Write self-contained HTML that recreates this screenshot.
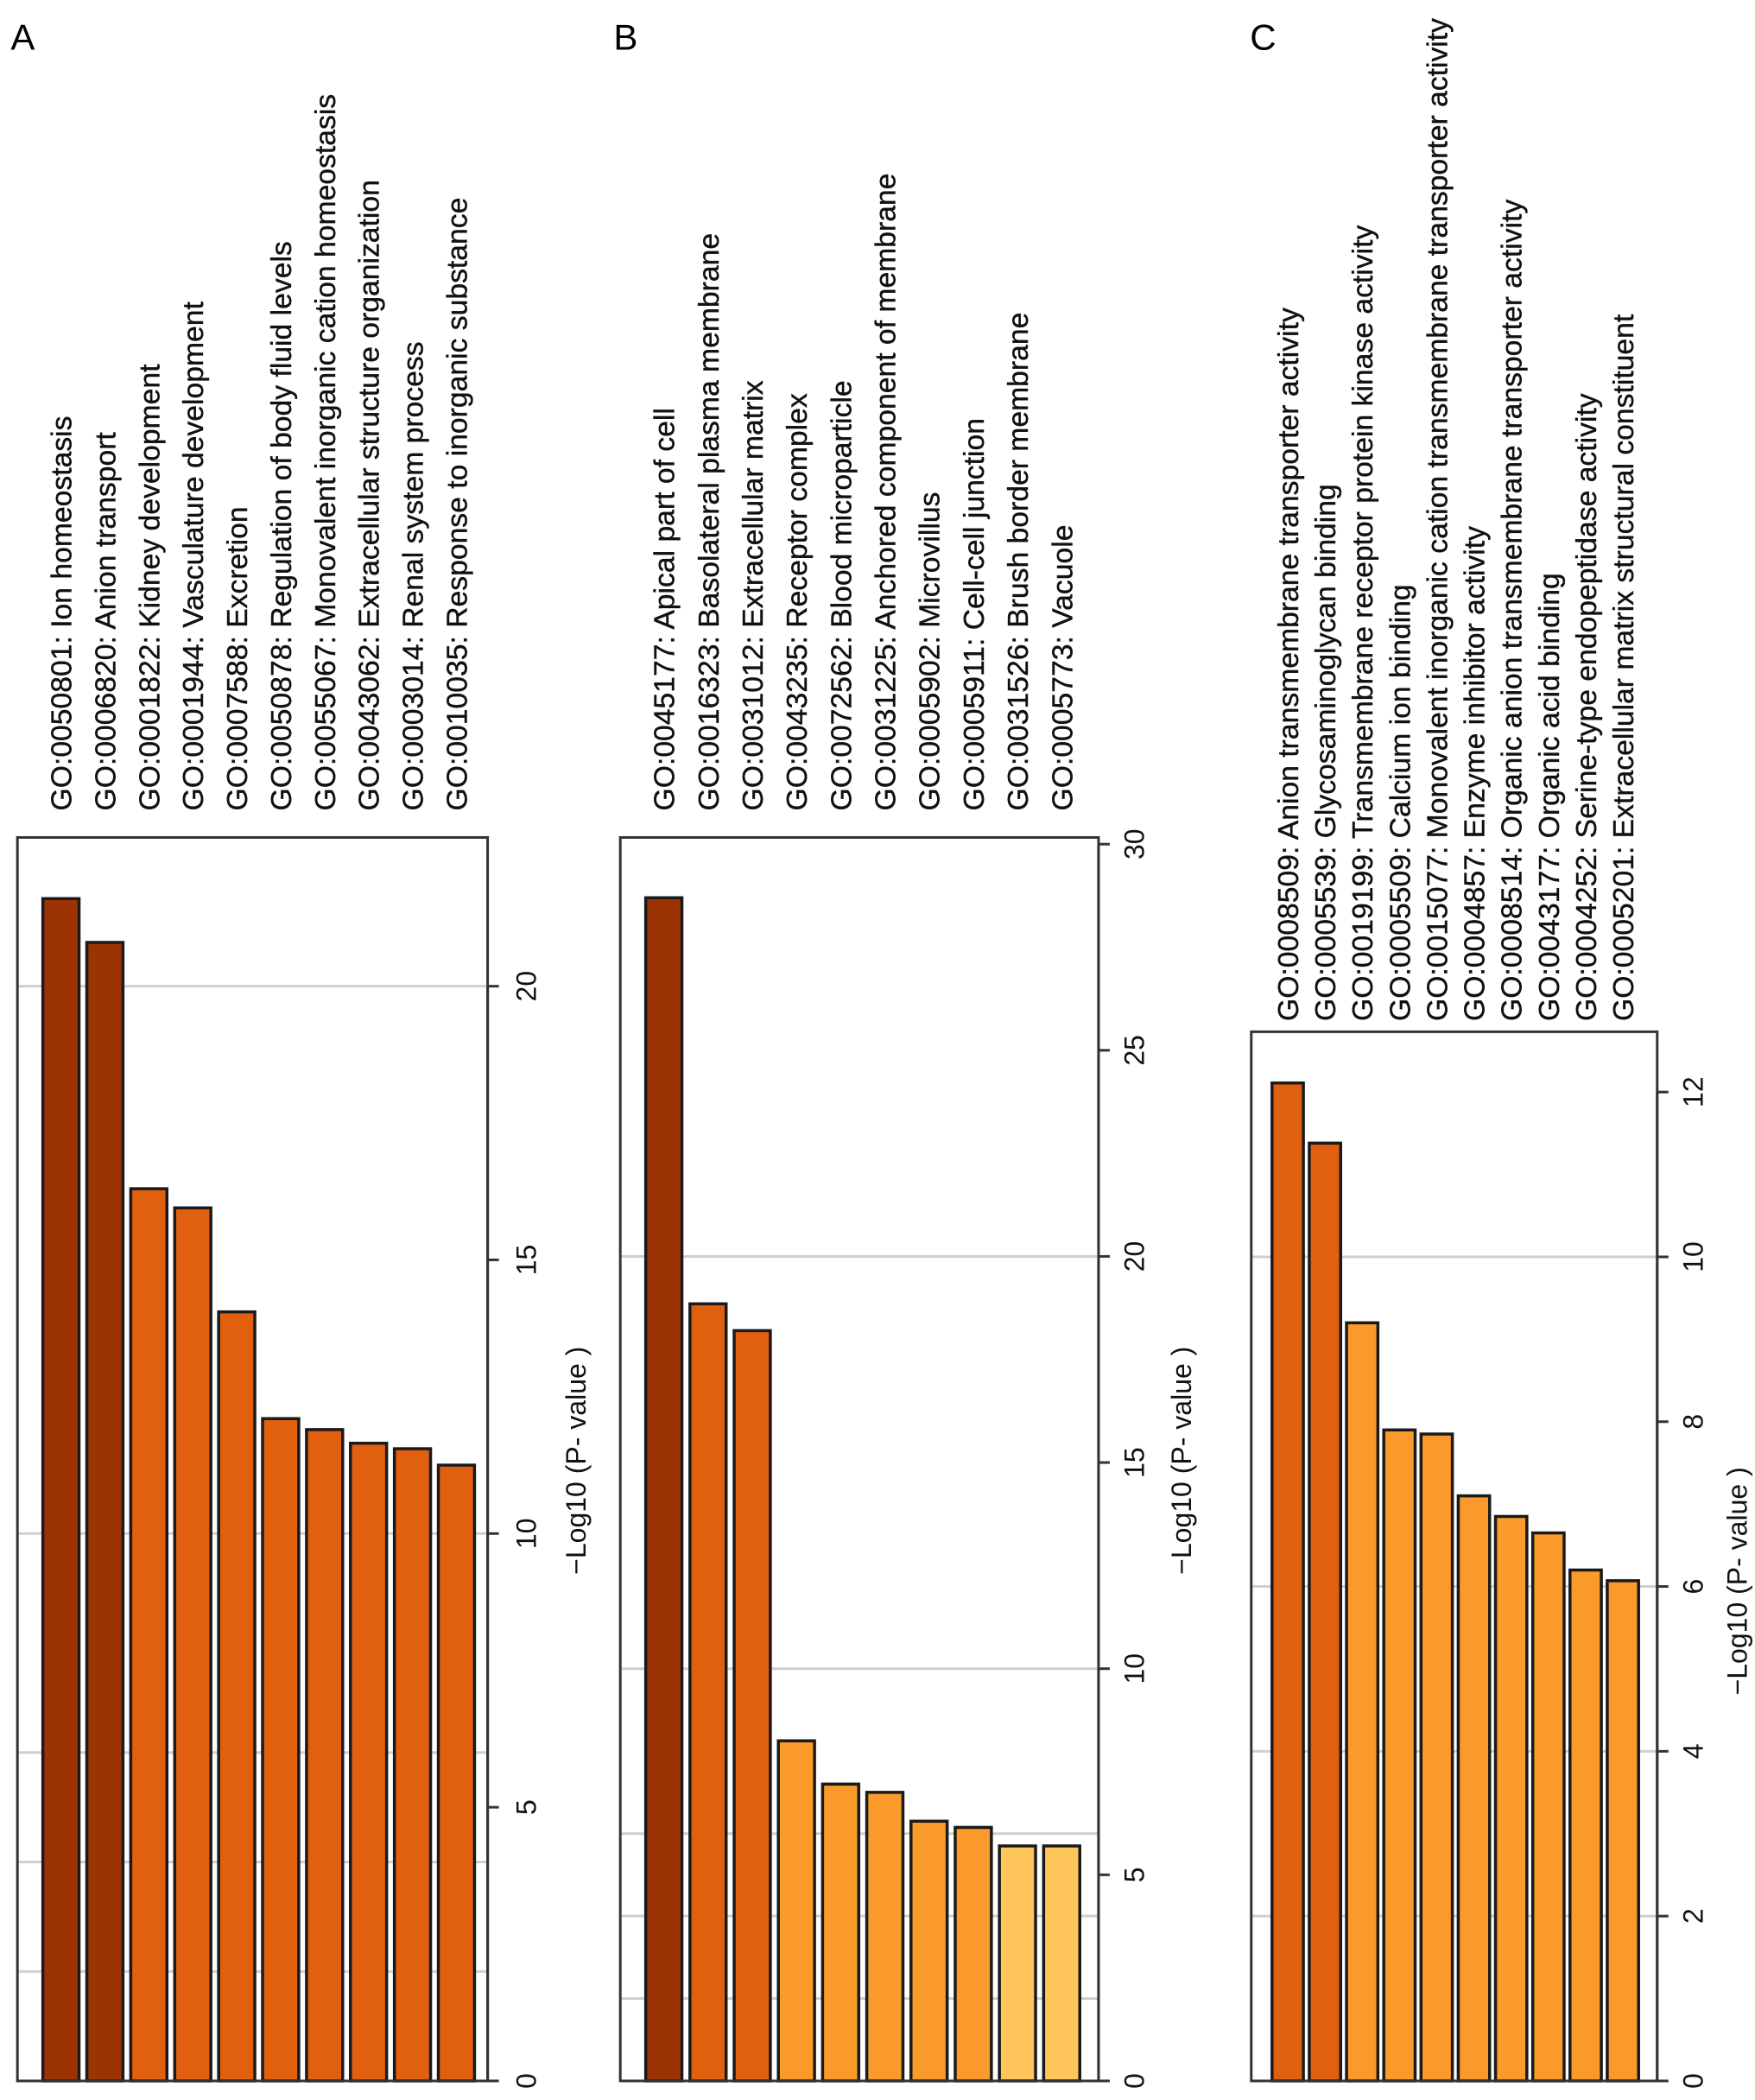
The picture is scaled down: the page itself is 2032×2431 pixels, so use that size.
<!DOCTYPE html>
<html><head><meta charset="utf-8">
<style>
html,body{margin:0;padding:0;background:#fff;}
svg{display:block;font-family:"Liberation Sans",Arial,sans-serif;}
</style></head>
<body>
<svg id="fig" width="2032" height="2431" viewBox="0 0 2032 2431" xmlns="http://www.w3.org/2000/svg"></svg>
<script>
// ---- Panel A data ----
const catsA = ["GO:0050801: Ion homeostasis","GO:0006820: Anion transport","GO:0001822: Kidney development","GO:0001944: Vasculature development","GO:0007588: Excretion","GO:0050878: Regulation of body fluid levels","GO:0055067: Monovalent inorganic cation homeostasis","GO:0043062: Extracellular structure organization","GO:0003014: Renal system process","GO:0010035: Response to inorganic substance"];
const valsA = [21.6, 20.8, 16.3, 15.95, 14.05, 12.1, 11.9, 11.65, 11.55, 11.25];
const colorLevelA = [0,0,1,1,1,1,1,1,1,1];
const ticksA = [0,5,10,15,20];
const gridA = [2,4,6,10,20];
// ---- Panel B data ----
const catsB = ["GO:0045177: Apical part of cell","GO:0016323: Basolateral plasma membrane","GO:0031012: Extracellular matrix","GO:0043235: Receptor complex","GO:0072562: Blood microparticle","GO:0031225: Anchored component of membrane","GO:0005902: Microvillus","GO:0005911: Cell-cell junction","GO:0031526: Brush border membrane","GO:0005773: Vacuole"];
const valsB = [28.7, 18.85, 18.2, 8.25, 7.2, 7.0, 6.3, 6.15, 5.7, 5.7];
const colorLevelB = [0,1,1,2,2,2,2,2,3,3];
const ticksB = [0,5,10,15,20,25,30];
const gridB = [2,4,6,10,20];
// ---- Panel C data ----
const catsC = ["GO:0008509: Anion transmembrane transporter activity","GO:0005539: Glycosaminoglycan binding","GO:0019199: Transmembrane receptor protein kinase activity","GO:0005509: Calcium ion binding","GO:0015077: Monovalent inorganic cation transmembrane transporter activity","GO:0004857: Enzyme inhibitor activity","GO:0008514: Organic anion transmembrane transporter activity","GO:0043177: Organic acid binding","GO:0004252: Serine-type endopeptidase activity","GO:0005201: Extracellular matrix structural constituent"];
const valsC = [12.11, 11.38, 9.2, 7.9, 7.85, 7.1, 6.85, 6.65, 6.2, 6.07];
const colorLevelC = [1,1,2,2,2,2,2,2,2,2];
const ticksC = [0,2,4,6,8,10,12];
const gridC = [2,4,6,10];

const palette = ["#9b3303","#e0600f","#f99a2b","#fdc55a"];
const S = 2032/1310;
const NS = "http://www.w3.org/2000/svg";
const svg = document.getElementById('fig');
function mk(tag, attrs, parent){
  const e = document.createElementNS(NS, tag);
  for (const k in attrs) e.setAttribute(k, attrs[k]);
  (parent||svg).appendChild(e);
  return e;
}

function panel(key, letter, letterX, cats, vals, levels, ticks, grid, cfg){
  const g = mk('g', {});
  
  
  const fx0 = cfg.fx0*S, fx1 = cfg.fx1*S, fy0 = cfg.fy0*S, fy1 = 1553*S;
  const y = v => fy1 - v*cfg.ppu*S;
  const L = mk('text', {x: letterX*S, y: 37*S, 'font-size': 42, fill:'#000'}, g);
  L.textContent = letter;
  
  
  grid.forEach(v => {
    const gl = mk('line', {x1: fx0, x2: fx1, y1: y(v), y2: y(v), stroke:'#cfcfcf', 'stroke-width': 3}, g);
    
    
  });
  vals.forEach((v,i) => {
    const bx = (cfg.b0 + i*cfg.pitch)*S, bw = cfg.bw*S;
    const r = mk('rect', {x: bx, y: y(v), width: bw, height: fy1 - y(v), fill: palette[levels[i]], stroke:'#1a1a1a', 'stroke-width': 3.5}, g);
    
    
    const cx = bx + bw/2;
    const t = mk('text', {transform:`translate(${cx+12},${cfg.labelY*S}) rotate(-90)`, 'font-size': 33.7, fill:'#111', stroke:'#111', 'stroke-width': 0.4}, g);
    t.textContent = cats[i];
    
    
  });
  const fr = mk('rect', {x: fx0, y: fy0, width: fx1-fx0, height: fy1-fy0, fill:'none', stroke:'#333', 'stroke-width': 3}, g);
  
  
  const ax = mk('line', {x1: fx1, x2: fx1, y1: y(ticks[0]), y2: y(ticks[ticks.length-1]), stroke:'#333', 'stroke-width': 3}, g);
  
  
  ticks.forEach(v => {
    const tk = mk('line', {x1: fx1, x2: fx1 + 13, y1: y(v), y2: y(v), stroke:'#333', 'stroke-width': 3}, g);
    
    
    const tl = mk('text', {transform:`translate(${cfg.tickX*S},${y(v)}) rotate(-90)`, 'font-size': 32, 'text-anchor':'middle', fill:'#111'}, g);
    tl.textContent = v;
    
    
  });
  const at = mk('text', {transform:`translate(${cfg.titleX*S},${cfg.titleY*S}) rotate(-90)`, 'font-size': 32, 'text-anchor':'middle', fill:'#111'}, g);
  at.textContent = '\u2212Log10 (P- value )';
  
  
}

panel('a','A',8,catsA,valsA,colorLevelA,ticksA,gridA,
  {fx0:13, fx1:364, fy0:625, ppu:(1553-736)/20, b0:32, pitch:32.8, bw:27, labelY:605, tickX:400, titleX:437, titleY:1090});
panel('b','B',458,catsB,valsB,colorLevelB,ticksB,gridB,
  {fx0:463, fx1:820, fy0:625, ppu:(1553-630)/30, b0:482, pitch:33, bw:27, labelY:605, tickX:854, titleX:889, titleY:1090});
panel('c','C',933,catsC,valsC,colorLevelC,ticksC,gridC,
  {fx0:934, fx1:1237, fy0:770, ppu:(1553-815)/12, b0:949.5, pitch:27.8, bw:23.4, labelY:762, tickX:1271, titleX:1304, titleY:1180});
</script>
</body></html>
